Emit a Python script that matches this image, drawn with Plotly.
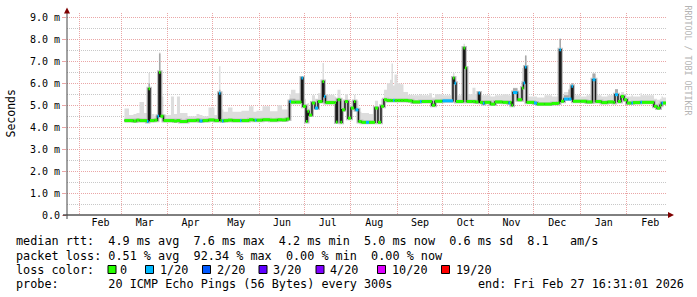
import plotly.graph_objects as go

# ---------------- data ----------------
x_start = "2025-01-23 16:31:01"
x_end = "2026-02-27 16:31:01"
data_end = "2026-02-27 00:00"

dates = [
    "2025-03-03", "2025-03-06", "2025-03-09", "2025-03-11", "2025-03-13", "2025-03-16",
    "2025-03-18", "2025-03-19", "2025-03-20", "2025-03-23", "2025-03-25", "2025-03-26",
    "2025-03-27", "2025-03-29", "2025-04-03", "2025-04-05", "2025-04-07", "2025-04-09",
    "2025-04-14", "2025-04-20", "2025-04-22", "2025-04-24", "2025-04-28", "2025-05-02",
    "2025-05-05", "2025-05-06", "2025-05-07", "2025-05-08", "2025-05-11", "2025-05-14",
    "2025-05-19", "2025-05-20", "2025-05-25", "2025-05-28", "2025-05-29", "2025-05-30",
    "2025-06-03", "2025-06-08", "2025-06-13", "2025-06-16", "2025-06-19", "2025-06-21",
    "2025-06-22", "2025-06-25", "2025-06-28", "2025-06-29", "2025-06-30", "2025-07-02",
    "2025-07-03", "2025-07-04", "2025-07-06", "2025-07-08", "2025-07-10", "2025-07-13",
    "2025-07-14", "2025-07-15", "2025-07-21", "2025-07-22", "2025-07-23", "2025-07-25",
    "2025-07-26", "2025-07-28", "2025-07-30", "2025-08-01", "2025-08-03", "2025-08-04",
    "2025-08-06", "2025-08-08", "2025-08-11", "2025-08-13", "2025-08-17", "2025-08-19",
    "2025-08-21", "2025-08-23", "2025-08-25", "2025-08-27", "2025-08-28", "2025-08-29",
    "2025-08-30", "2025-09-01", "2025-09-03", "2025-09-05", "2025-09-08", "2025-09-11",
    "2025-09-16", "2025-09-17", "2025-09-22", "2025-09-24", "2025-09-26", "2025-10-01",
    "2025-10-08", "2025-10-09", "2025-10-10", "2025-10-15", "2025-10-16", "2025-10-17",
    "2025-10-21", "2025-10-23", "2025-10-25", "2025-10-26", "2025-10-28", "2025-10-29",
    "2025-11-02", "2025-11-05", "2025-11-10", "2025-11-14", "2025-11-15", "2025-11-16",
    "2025-11-17", "2025-11-20", "2025-11-23", "2025-11-24", "2025-11-25", "2025-11-26",
    "2025-12-01", "2025-12-03", "2025-12-08", "2025-12-13", "2025-12-17", "2025-12-18",
    "2025-12-19", "2025-12-21", "2025-12-24", "2025-12-26", "2025-12-27", "2026-01-01",
    "2026-01-05", "2026-01-09", "2026-01-11", "2026-01-15", "2026-01-19", "2026-01-23",
    "2026-01-24", "2026-01-26", "2026-01-28", "2026-01-30", "2026-02-01", "2026-02-04",
    "2026-02-05", "2026-02-10", "2026-02-11", "2026-02-19", "2026-02-21", "2026-02-23",
    "2026-02-24", "2026-02-25",
]

# median rtt (ms)
median = [
    4.30, 4.30, 4.28, 4.32, 4.30, 4.30,
    4.26, 5.75, 4.30, 4.32, 4.50, 6.50,
    4.50, 4.30, 4.30, 4.28, 4.30, 4.26,
    4.30, 4.32, 4.28, 4.30, 4.33, 4.30,
    5.55, 4.30, 4.28, 4.30, 4.32, 4.30,
    4.30, 4.30, 4.34, 4.32, 4.32, 4.32,
    4.34, 4.32, 4.34, 4.33, 4.37, 5.17,
    5.14, 5.14, 5.14, 6.24, 4.95, 4.26,
    4.72, 4.55, 5.10, 4.87, 5.17, 6.08,
    5.40, 5.12, 5.12, 4.23, 5.25, 4.22,
    4.79, 5.17, 4.41, 4.87, 5.17, 4.79,
    4.26, 4.22, 4.22, 4.22, 4.87, 4.22,
    4.95, 5.25, 5.22, 5.22, 5.22, 5.22,
    5.22, 5.22, 5.22, 5.22, 5.20, 5.15,
    5.17, 5.17, 5.17, 5.00, 5.18, 5.20,
    6.24, 6.00, 5.17, 7.61, 6.70, 5.17,
    5.17, 5.15, 5.56, 5.13, 5.08, 5.13,
    5.05, 5.15, 5.13, 5.10, 5.13, 5.00,
    5.58, 5.25, 5.78, 6.01, 6.74, 5.13,
    5.10, 5.05, 5.05, 5.08, 5.10, 7.53,
    5.18, 5.28, 5.28, 5.86, 5.18, 5.18,
    5.15, 6.16, 5.17, 5.12, 5.15, 5.12,
    5.48, 5.17, 5.40, 5.25, 5.10, 5.10,
    5.12, 5.14, 5.13, 4.95, 4.87, 5.00,
    5.10, 5.10,
]

# upper edge of the light smoke (ms)
smoke_hi = [
    4.85, 4.55, 4.60, 4.65, 5.15, 4.65,
    4.50, 6.47, 4.60, 4.50, 4.60, 7.40,
    5.40, 4.55, 5.40, 4.60, 5.40, 4.65,
    4.50, 4.60, 4.55, 4.50, 4.90, 4.55,
    6.77, 4.95, 4.80, 4.70, 4.90, 4.70,
    4.70, 4.75, 4.95, 4.70, 4.70, 4.75,
    4.95, 4.72, 5.00, 4.80, 4.80, 5.50,
    5.70, 5.55, 5.60, 6.30, 5.30, 4.60,
    5.10, 4.90, 5.45, 5.30, 5.55, 6.92,
    5.90, 5.48, 5.40, 4.60, 5.70, 4.55,
    5.20, 5.50, 5.00, 5.20, 5.48, 5.20,
    4.70, 4.65, 4.65, 4.60, 5.20, 4.65,
    5.30, 5.70, 6.00, 6.16, 6.90, 5.90,
    6.40, 6.00, 5.95, 5.60, 5.48, 5.45,
    5.50, 5.45, 5.55, 5.35, 5.50, 5.45,
    6.47, 6.30, 5.45, 7.80, 7.00, 5.50,
    5.80, 5.50, 5.63, 5.45, 5.45, 5.45,
    5.40, 5.45, 5.50, 5.45, 5.45, 5.45,
    5.80, 5.55, 6.70, 6.70, 7.26, 5.40,
    5.40, 5.35, 5.45, 5.40, 5.45, 8.05,
    5.45, 5.60, 5.75, 6.00, 5.45, 5.40,
    5.45, 6.44, 5.45, 5.40, 5.45, 5.55,
    5.73, 5.45, 5.60, 5.50, 5.40, 5.45,
    5.40, 5.55, 5.45, 5.30, 5.25, 5.30,
    5.40, 5.35,
]

# upper edge of the dark smoke (ms)
smoke_dark = [
    4.30, 4.30, 4.28, 4.32, 4.30, 4.30,
    4.26, 6.00, 4.30, 4.32, 4.50, 7.35,
    4.50, 4.30, 4.30, 4.28, 4.30, 4.26,
    4.30, 4.32, 4.28, 4.30, 4.33, 4.30,
    5.70, 4.30, 4.28, 4.30, 4.32, 4.30,
    4.30, 4.30, 4.34, 4.32, 4.32, 4.32,
    4.34, 4.32, 4.34, 4.33, 4.37, 5.30,
    5.30, 5.25, 5.25, 6.30, 5.00, 4.26,
    4.80, 4.55, 5.10, 4.87, 5.17, 6.15,
    5.40, 5.12, 5.12, 4.23, 5.25, 4.22,
    4.79, 5.17, 4.41, 4.87, 5.17, 4.79,
    4.26, 4.22, 4.22, 4.22, 4.87, 4.22,
    4.95, 5.25, 5.22, 5.22, 5.22, 5.22,
    5.22, 5.22, 5.22, 5.22, 5.20, 5.15,
    5.17, 5.17, 5.17, 5.00, 5.18, 5.20,
    6.30, 6.00, 5.17, 7.65, 6.80, 5.17,
    5.17, 5.15, 5.56, 5.13, 5.08, 5.13,
    5.05, 5.15, 5.13, 5.10, 5.13, 5.00,
    5.77, 5.25, 6.00, 6.20, 7.26, 5.13,
    5.10, 5.05, 5.05, 5.08, 5.10, 8.02,
    5.18, 5.45, 5.70, 6.00, 5.18, 5.18,
    5.15, 6.44, 5.17, 5.12, 5.15, 5.12,
    5.73, 5.17, 5.40, 5.25, 5.10, 5.10,
    5.12, 5.14, 5.13, 4.95, 4.87, 5.00,
    5.10, 5.10,
]

# packet loss (pings lost out of 20)
loss = [
    0, 0, 0, 0, 0, 0,
    1, 0, 0, 0, 1, 0,
    0, 0, 0, 0, 0, 0,
    0, 0, 1, 0, 0, 0,
    1, 0, 1, 0, 0, 0,
    1, 0, 0, 0, 1, 0,
    0, 0, 0, 0, 0, 1,
    0, 0, 0, 1, 0, 0,
    0, 0, 0, 1, 0, 0,
    1, 0, 0, 0, 0, 0,
    0, 0, 0, 0, 0, 1,
    0, 0, 1, 0, 0, 0,
    0, 0, 0, 0, 0, 1,
    0, 0, 0, 0, 0, 0,
    1, 0, 0, 0, 0, 1,
    0, 1, 0, 0, 0, 0,
    0, 0, 1, 0, 1, 0,
    0, 0, 0, 1, 0, 0,
    1, 0, 0, 1, 1, 0,
    1, 0, 0, 0, 0, 1,
    0, 1, 1, 1, 0, 0,
    0, 1, 0, 0, 0, 0,
    1, 0, 0, 0, 0, 1,
    0, 1, 0, 0, 0, 0,
    1, 0,
]

ytick_vals = [0, 1, 2, 3, 4, 5, 6, 7, 8, 9]
ytick_text = ["0.0", "1.0 m", "2.0 m", "3.0 m", "4.0 m", "5.0 m",
              "6.0 m", "7.0 m", "8.0 m", "9.0 m"]

loss_labels = ["0", "1/20", "2/20", "3/20", "4/20", "10/20", "19/20"]
loss_colors = ["#26ff00", "#00b8ff", "#0059ff", "#5e00ff", "#7e00ff", "#dd00ff", "#ff0000"]

legend_lines = [
    "median rtt:  4.9 ms avg  7.6 ms max  4.2 ms min  5.0 ms now  0.6 ms sd  8.1   am/s",
    "packet loss: 0.51 % avg  92.34 % max  0.00 % min  0.00 % now",
    "loss color:",
    "probe:       20 ICMP Echo Pings (56 Bytes) every 300s",
]
end_text = "end: Fri Feb 27 16:31:01 2026"
y_title = "Seconds"
watermark = "RRDTOOL / TOBI OETIKER"

# ---------------- layout helpers ----------------
W, H = 697, 297
ML, MR, MT, MB = 67, 30, 13, 82
PW, PH = W - ML - MR, H - MT - MB
MONO = "DejaVu Sans Mono"
MGRID = "#eaa6a6"
GRID = "#c8c8c8"


def px(x):
    return (x - ML) / PW


def py(y):
    return (H - MB - y) / PH


def nb(s):
    return s.replace(" ", "\u00a0")


step_x = dates + [data_end]
step_med = median + [median[-1]]
step_hi = smoke_hi + [smoke_hi[-1]]
step_dk = smoke_dark + [smoke_dark[-1]]

fig = go.Figure()

# light smoke
fig.add_trace(go.Scatter(x=step_x, y=step_med, mode="lines", line=dict(width=0, shape="hv"),
                         hoverinfo="skip", showlegend=False))
fig.add_trace(go.Scatter(x=step_x, y=step_hi, mode="lines", line=dict(width=0, shape="hv"),
                         fill="tonexty", fillcolor="#dddddd", hoverinfo="skip", showlegend=False))
# dark smoke
fig.add_trace(go.Scatter(x=step_x, y=step_med, mode="lines", line=dict(width=0, shape="hv"),
                         hoverinfo="skip", showlegend=False))
fig.add_trace(go.Scatter(x=step_x, y=step_dk, mode="lines", line=dict(width=0, shape="hv"),
                         fill="tonexty", fillcolor="#a8a8a8", hoverinfo="skip", showlegend=False))
# smoke band around the median
fig.add_trace(go.Scatter(x=step_x, y=step_med, mode="lines",
                         line=dict(width=4, shape="hv", color="#c2c2c2"),
                         hoverinfo="skip", showlegend=False))
# median line
fig.add_trace(go.Scatter(x=step_x, y=step_med, mode="lines",
                         line=dict(width=1.5, shape="hv", color="#1a1a1a"),
                         hoverinfo="skip", showlegend=False))

# loss-coloured median segments
for cls, col in enumerate(loss_colors[:2]):
    xs, ys = [], []
    for i in range(len(dates)):
        if loss[i] == cls:
            x1 = dates[i + 1] if i + 1 < len(dates) else data_end
            xs += [dates[i], x1, None]
            ys += [median[i], median[i], None]
    fig.add_trace(go.Scatter(x=xs, y=ys, mode="lines", line=dict(width=3, color=col),
                             connectgaps=False, hoverinfo="skip", showlegend=False))

shapes = []
# axes
shapes.append(dict(type="line", xref="paper", yref="paper", x0=px(63), x1=px(668),
                   y0=py(215), y1=py(215), line=dict(color="#000000", width=1)))
shapes.append(dict(type="line", xref="paper", yref="paper", x0=px(67), x1=px(67),
                   y0=py(219), y1=py(12), line=dict(color="#444444", width=1)))
# arrows
shapes.append(dict(type="path", xref="paper", yref="paper",
                   path=f"M {px(64)} {py(13.5)} L {px(70)} {py(13.5)} L {px(67)} {py(7.5)} Z",
                   fillcolor="#7f0000", line=dict(width=0)))
shapes.append(dict(type="path", xref="paper", yref="paper",
                   path=f"M {px(668)} {py(212)} L {px(668)} {py(218)} L {px(674)} {py(215)} Z",
                   fillcolor="#7f0000", line=dict(width=0)))

annotations = []
line_y = [241, 255.5, 269.5, 284]
for txt, yy in zip(legend_lines, line_y):
    annotations.append(dict(text=nb(txt), x=px(14), y=py(yy), xref="paper", yref="paper",
                            xanchor="left", yanchor="middle", showarrow=False,
                            font=dict(family=MONO, size=11.8, color="#000000")))
annotations.append(dict(text=nb(end_text), x=px(476), y=py(284), xref="paper", yref="paper",
                        xanchor="left", yanchor="middle", showarrow=False,
                        font=dict(family=MONO, size=11.8, color="#000000")))

sq_x = [108, 145.5, 202.5, 259, 316, 377.5, 441.5]
lab_x = [118, 157.5, 214.5, 271, 328, 389.5, 453.5]
for lab, col, sx, lx in zip(loss_labels, loss_colors, sq_x, lab_x):
    shapes.append(dict(type="rect", xref="paper", yref="paper", x0=px(sx), x1=px(sx + 8),
                       y0=py(273.5), y1=py(265.5), fillcolor=col,
                       line=dict(color="#000000", width=1)))
    annotations.append(dict(text=nb(lab), x=px(lx), y=py(269.5), xref="paper", yref="paper",
                            xanchor="left", yanchor="middle", showarrow=False,
                            font=dict(family=MONO, size=11.8, color="#000000")))

annotations.append(dict(text=y_title, x=px(10.5), y=py(114), xref="paper", yref="paper",
                        xanchor="center", yanchor="middle", textangle=-90, showarrow=False,
                        font=dict(family=MONO, size=11.5, color="#000000")))
annotations.append(dict(text=nb(watermark), x=px(687.5), y=py(60), xref="paper", yref="paper",
                        xanchor="center", yanchor="middle", textangle=90, showarrow=False,
                        font=dict(family=MONO, size=8.3, color="#b4b4b4")))

fig.update_layout(
    width=W, height=H,
    margin=dict(l=ML, r=MR, t=MT, b=MB, pad=0),
    paper_bgcolor="#ffffff", plot_bgcolor="#ffffff",
    showlegend=False,
    shapes=shapes, annotations=annotations,
    xaxis=dict(type="date", range=[x_start, x_end], tick0="2025-01-01", dtick="M1",
               ticklabelmode="period", tickformat="%b", showgrid=True, gridcolor=MGRID,
               griddash="1px,1px", gridwidth=1, ticks="", showline=False, zeroline=False,
               tickfont=dict(family=MONO, size=10, color="#000000"), fixedrange=True),
    yaxis=dict(range=[0, 9.2], tickmode="array", tickvals=ytick_vals, ticktext=ytick_text,
               showgrid=True, gridcolor=MGRID, griddash="1px,1px", gridwidth=1,
               ticks="outside", ticklen=4, tickcolor=MGRID, showline=False, zeroline=False,
               tickfont=dict(family=MONO, size=10, color="#000000"), fixedrange=True,
               minor=dict(dtick=0.5, tick0=0, showgrid=True, gridcolor=GRID,
                          griddash="1px,1px", gridwidth=1)),
)

fig.write_html("out.html")
